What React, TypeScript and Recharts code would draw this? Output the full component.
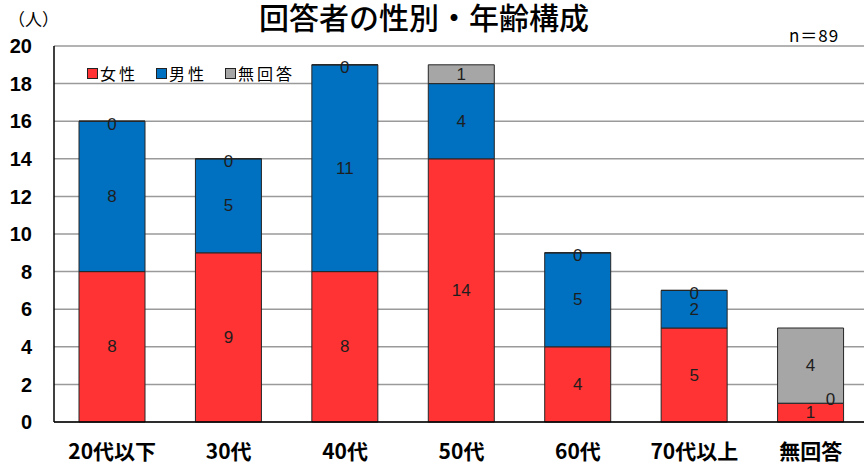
import { BarChart, Bar, XAxis, YAxis, CartesianGrid, LabelList } from 'recharts';

const categories = ['20代以下', '30代', '40代', '50代', '60代', '70代以上', '無回答'];
const female = [8, 9, 8, 14, 4, 5, 1];
const male = [8, 5, 11, 4, 5, 2, 0];
const noAnswer = [0, 0, 0, 1, 0, 0, 4];
const yTicks = [0, 2, 4, 6, 8, 10, 12, 14, 16, 18, 20];

const data = categories.map((name, i) => ({
  name,
  female: female[i],
  male: male[i],
  noAnswer: noAnswer[i],
}));

const series = [
  { key: 'female', name: '女性', color: '#ff3333' },
  { key: 'male', name: '男性', color: '#0070c0' },
  { key: 'noAnswer', name: '無回答', color: '#a6a6a6' },
];

const FONT = '"Liberation Sans", Arial, sans-serif';
const JP = '"Noto Sans CJK JP", "Noto Sans", sans-serif';

function makeLabel(seriesKey: string) {
  return (props: any) => {
    const { x, y, width, height, value, index } = props;
    // Excel nudges the zero label that would collide with the one below it
    const nudge = seriesKey === 'male' && index === 6;
    const isZero = Number(value) === 0;
    return (
      <text
        x={Number(x) + Number(width) / 2 + (nudge ? 20 : 0)}
        y={Number(y) + Number(height) / 2 + (nudge ? -4 : isZero ? 3 : 0)}
        textAnchor="middle"
        dominantBaseline="central"
        fontSize={17}
        fontFamily={FONT}
        fill="#1e1e1e"
      >
        {value}
      </text>
    );
  };
}

function XTick(props: any) {
  const { x, y, payload } = props;
  return (
    <text x={x} y={y + 37} textAnchor="middle" fontSize={21} fontWeight={700} fontFamily={JP} fill="#000">
      {payload.value}
    </text>
  );
}

function LegendBox() {
  return (
    <div
      style={{
        position: 'absolute',
        left: 87,
        top: 62,
        display: 'flex',
        fontFamily: JP,
        fontSize: 16,
        lineHeight: '22px',
        color: '#000',
        letterSpacing: 3,
        zIndex: 2,
      }}
    >
      {series.map((s) => (
        <div key={s.key} style={{ display: 'flex', alignItems: 'center', marginRight: 18 }}>
          <span
            style={{
              width: 9,
              height: 9,
              background: s.color,
              border: '1px solid #222',
              marginRight: 2,
              display: 'inline-block',
            }}
          />
          <span>{s.name}</span>
        </div>
      ))}
    </div>
  );
}

export default function App() {
  return (
    <div
      style={{
        position: 'fixed',
        left: 0,
        top: 0,
        width: 864,
        height: 465,
        overflow: 'hidden',
        background: '#fff',
      }}
    >
      <svg width={864} height={40} style={{ position: 'absolute', left: 0, top: 0, zIndex: 2 }}>
        <text x={424} y={29} textAnchor="middle" fontFamily={JP} fontSize={30} fontWeight={500} fill="#000">
          回答者の性別・年齢構成
        </text>
      </svg>
      <div style={{ position: 'absolute', left: 8, top: 6, fontFamily: JP, fontSize: 17, color: '#000', zIndex: 2 }}>
        （人）
      </div>
      <div
        style={{
          position: 'absolute',
          left: 789,
          top: 22,
          fontFamily: JP,
          fontSize: 17,
          letterSpacing: 1,
          color: '#000',
          zIndex: 2,
        }}
      >
        n＝89
      </div>
      <LegendBox />
      <BarChart
        width={880}
        height={465}
        data={data}
        margin={{ top: 46, right: 11, left: 0, bottom: 3 }}
        barSize={66}
      >
        <CartesianGrid vertical={false} stroke="#9a9a9a" strokeWidth={1.5} />
        <XAxis
          dataKey="name"
          tickLine={false}
          tickSize={0}
          tickMargin={0}
          height={40}
          axisLine={{ stroke: '#000', strokeWidth: 1.5 }}
          tick={<XTick />}
          interval={0}
        />
        <YAxis
          domain={[0, 20]}
          ticks={yTicks}
          width={54}
          tickLine={false}
          tickSize={0}
          tickMargin={22}
          axisLine={{ stroke: '#000', strokeWidth: 1.5 }}
          tick={{ fill: '#000', fontSize: 20, fontWeight: 700, fontFamily: FONT }}
          interval={0}
        />
        {series.map((s) => (
          <Bar
            key={s.key}
            dataKey={s.key}
            name={s.name}
            stackId="a"
            fill={s.color}
            stroke="#262626"
            strokeWidth={1}
            minPointSize={0.01}
            isAnimationActive={false}
          >
            <LabelList dataKey={s.key} content={makeLabel(s.key)} />
          </Bar>
        ))}
      </BarChart>
    </div>
  );
}
